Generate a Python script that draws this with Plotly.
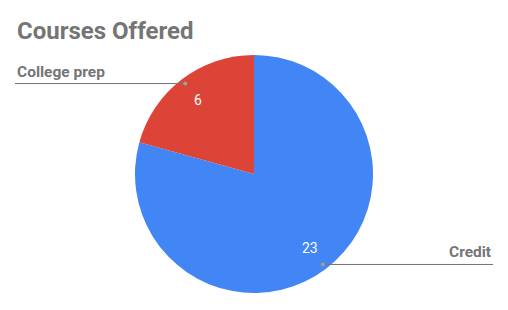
import math
import plotly.graph_objects as go

# ---- data ----
categories = ["Credit", "College prep"]
values = [23, 6]
colors = ["#4285F4", "#DB4437"]
title_text = "Courses Offered"

# ---- geometry (layout) ----
W, H = 508, 310
CX, CY, R = 254, 174, 119

def px(x):
    return x / W

def py(y):
    return 1 - y / H

fig = go.Figure()
fig.add_trace(go.Pie(
    labels=categories, values=values, sort=False, direction="clockwise", rotation=0,
    marker=dict(colors=colors, line=dict(width=0)),
    textinfo="none", hoverinfo="label+value",
    domain=dict(x=[px(CX - R), px(CX + R)], y=[py(CY + R), py(CY - R)]),
    showlegend=False,
))

total = sum(values)
annotations = []
shapes = []
cum = 0
for i, (cat, v) in enumerate(zip(categories, values)):
    mid = (cum + v / 2) / total * 2 * math.pi  # clockwise from 12 o'clock
    cum += v
    sx, sy = math.sin(mid), -math.cos(mid)
    # value label
    vx, vy = CX + 0.78 * R * sx, CY + 0.78 * R * sy
    annotations.append(dict(x=px(vx), y=py(vy), xref="paper", yref="paper", text=str(v),
                            showarrow=False, font=dict(family="Roboto", size=14, color="white"),
                            xanchor="center", yanchor="middle"))
    # leader dot and line
    dx, dy = CX + 0.955 * R * sx, CY + 0.955 * R * sy
    end_x = 15 if sx < 0 else 493
    shapes.append(dict(type="line", xref="paper", yref="paper", x0=px(dx), y0=py(dy),
                       x1=px(end_x), y1=py(dy), line=dict(color="#757575", width=1)))
    shapes.append(dict(type="circle", xref="paper", yref="paper",
                       x0=px(dx - 2), x1=px(dx + 2), y0=py(dy - 2), y1=py(dy + 2),
                       fillcolor="#9e9e9e", line=dict(width=0)))
    annotations.append(dict(x=px(end_x), y=py(dy - 1), xref="paper", yref="paper", text="<b>%s</b>" % cat,
                            showarrow=False, font=dict(family="Roboto", size=15.5, color="#757575"),
                            xanchor="left" if sx < 0 else "right", yanchor="bottom"))

annotations.append(dict(x=px(15), y=py(31), xref="paper", yref="paper", text="<b>%s</b>" % title_text,
                        showarrow=False, font=dict(family="Roboto", size=24, color="#757575"),
                        xanchor="left", yanchor="middle"))

fig.update_layout(width=W, height=H, margin=dict(l=0, r=0, t=0, b=0),
                  paper_bgcolor="white", plot_bgcolor="white",
                  annotations=annotations, shapes=shapes)
fig.write_html("out.html")
